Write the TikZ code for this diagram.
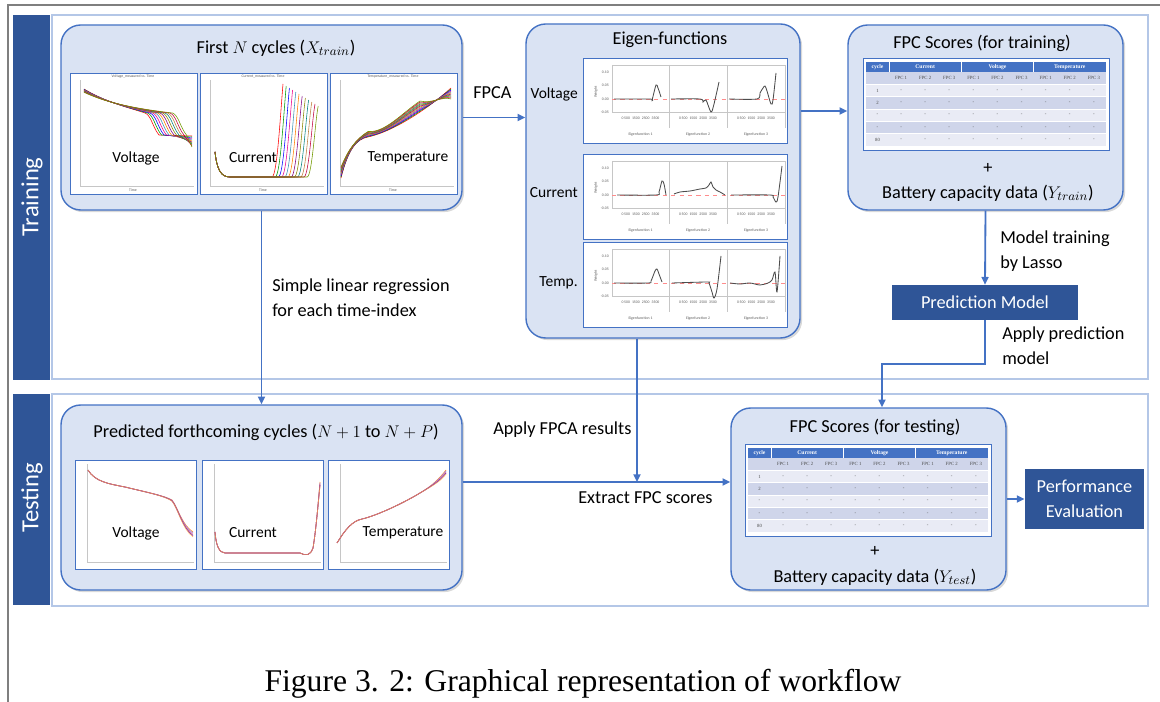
\documentclass[tikz,border=0pt]{standalone}
\usepackage{fontspec}
\setmainfont{Carlito}
\newfontfamily\capfont{Liberation Serif}
\usetikzlibrary{arrows.meta,shadows,fit,positioning}
\definecolor{boxfill}{RGB}{218,227,243}
\definecolor{boxline}{RGB}{68,114,196}
\definecolor{barblue}{RGB}{47,85,151}
\definecolor{panelline}{RGB}{180,199,231}
\definecolor{rowdark}{RGB}{207,213,234}
\definecolor{rowlight}{RGB}{233,235,245}
\definecolor{framegray}{RGB}{127,127,127}

\newcommand{\scoretable}[3]{%
  \begin{scope}[shift={(#1,#2)}]
    \draw[boxline, fill=white, line width=0.6pt] (0,0) rectangle (246,92);
    \fill[boxline] (3,4) rectangle (243,14);
    \foreach \r/\c in {0/rowdark,1/rowlight,2/rowdark,3/rowlight,4/rowdark,5/rowlight}
      \fill[\c] (3,{14+12.33*\r}) rectangle (243,{26.33+12.33*\r});
    \foreach \r in {1,...,5}
      \draw[white, line width=0.4pt] (3,{14+12.33*\r}) -- (243,{14+12.33*\r});
    \foreach \xx in {26,98.3,170.6}
      \draw[white, line width=0.6pt] (\xx,4) -- (\xx,14);
    \node[tabhead] (#3-cyc) at (14.5,9) {cycle};
    \node[tabhead] (#3-cur) at (62.2,9) {Current};
    \node[tabhead] (#3-vol) at (134.5,9) {Voltage};
    \node[tabhead] (#3-tmp) at (206.8,9) {Temperature};
    \foreach \k/\n in {0/1,1/2,2/3,3/1,4/2,5/3,6/1,7/2,8/3}
      \node[tabcell] (#3-h\k) at ({38.05+24.1*\k},20.2) {FPC \n};
    \foreach \r/\lab in {1/1,2/2,3/-,4/-,5/80} {
      \node[tabcell] (#3-r\r) at (14.5,{20.2+12.33*\r}) {\lab};
      \foreach \k in {0,...,8}
        \node[tabcell] (#3-\r-\k) at ({38.05+24.1*\k},{20.2+12.33*\r}) {-};
    }
  \end{scope}}

\newcommand{\eigenrow}[3]{%
  \begin{scope}[shift={(0,#1)}]
    \draw[plotbox] (583,0) rectangle (787,85);
    \draw[axisgray] (612,7) -- (612,54) -- (785,54) (612,7) -- (785,7)
      (669,7) -- (669,70) (727,7) -- (727,70) (785,7) -- (785,70);
    \draw[red!45, dashed, line width=0.4pt] (612,41) -- (785,41);
    \foreach \v/\yy in {0.10/14,0.05/27.5,0.00/41,-0.05/54.5}
      \node[ticklab, anchor=east] (#2-y\yy) at (609,\yy) {\v};
    \node[ticklab, rotate=90] (#2-w) at (596,34) {Weight};
    \foreach \xx/\k in {640.5/1,698/2,756/3} {
      \node[ticklab] (#2-t\k) at (\xx,60) {0\,500\;\;1500\;\;2500\;\;3500};
      \node[ticklab] (#2-e\k) at (\xx,77) {Eigenfunction \k};
    }
    #3
  \end{scope}}

\begin{document}
\begin{tikzpicture}[x=0.025cm, y=-0.025cm,
  block/.style={draw=boxline, fill=boxfill, line width=1pt, rounded corners=14pt, inner sep=0pt,
    drop shadow={opacity=0.3, shadow xshift=1.5pt, shadow yshift=-1.5pt}},
  darkbox/.style={fill=barblue, text=white, font=\fontsize{13}{17.5}\selectfont, align=center, inner sep=0pt},
  flow/.style={boxline, line width=1.3pt, -{Triangle[length=5.5pt,width=5pt]}},
  lab/.style={font=\fontsize{13}{17.5}\selectfont, align=left, inner sep=0pt},
  blocktitle/.style={font=\fontsize{13}{16}\selectfont, inner sep=0pt},
  plotlab/.style={font=\fontsize{11}{13}\selectfont, inner sep=0pt},
  sidelab/.style={text=white, font=\fontsize{17.5}{20}\selectfont, inner sep=0pt},
  plotbox/.style={draw=boxline, fill=white, line width=0.6pt},
  axisgray/.style={draw=gray!45, line width=0.3pt},
  ticklab/.style={font=\fontsize{2.7}{3}\selectfont, inner sep=0pt, text=gray!70!black},
  eigcurve/.style={gray!60!black, line width=0.6pt},
  tabhead/.style={font=\capfont\bfseries\fontsize{4}{4.5}\selectfont, text=white, inner sep=0pt},
  tabcell/.style={font=\capfont\fontsize{3.4}{4}\selectfont, text=black!70, inner sep=0pt}]

\useasboundingbox (0,0) rectangle (1160,702);
\draw[framegray, line width=1.2pt] (8,702) -- (8,5) -- (1160,5);

% training and testing lanes
\draw[panelline, line width=0.8pt] (52,15) rectangle (1148,379);
\draw[panelline, line width=0.8pt] (52,394) rectangle (1148,606);
\fill[barblue] (13,15) rectangle (50,380);
\fill[barblue] (13,394) rectangle (50,605);
\node[sidelab, rotate=90] (trainlab) at (32,197) {Training};
\node[sidelab, rotate=90] (testlab) at (32,498) {Testing};

\node[block, fit={(61,25) (462,210)}] (first) {};
\node[block, fit={(526,24) (800,338)}] (eigen) {};
\node[block, fit={(848,25) (1123,210)}] (trainsc) {};
\node[block, fit={(61,405) (462,590)}] (pred) {};
\node[block, fit={(731,408) (1006,590)}] (testsc) {};

\node[blocktitle] (firsttitle) at (276,48) {First $N$ cycles ($X_{train}$)};
\node[blocktitle] (eigentitle) at (670,40) {Eigen-functions};
\node[blocktitle] (trainsctitle) at (982,43) {FPC Scores (for training)};
\node[blocktitle] (predtitle) at (266,432) {Predicted forthcoming cycles ($N+1$ to $N+P$)};
\node[blocktitle] (testsctitle) at (875,427) {FPC Scores (for testing)};

% raw cycles
\foreach \x/\t in {70/Voltage,200/Current,330/Temperature} {
  \draw[plotbox] (\x,73) rectangle ({\x+127},194);
  \draw[axisgray] ({\x+10},80) -- ({\x+10},186) -- ({\x+124},186);
  \node[ticklab] (raw-\t) at ({\x+63},76.5) {\t\_measured vs. Time};
  \node[ticklab] (rawx-\t) at ({\x+63},190.5) {Time};
}
\foreach \i/\c in {0/red,1/green!60!black,2/blue,3/magenta,4/cyan!70!black,5/orange,6/violet,7/olive,8/teal,9/brown,10/purple,11/lime!60!black} {
  \draw[\c, line width=0.4pt] (84,{89+0.3*\i}) .. controls (105,102) and (130,108) .. ({145+2.5*\i},113)
    .. controls ({151+2.5*\i},115) and ({153+2.5*\i},128) .. ({159+2.5*\i},135) -- (192,{136+\i});
  \draw[\c, line width=0.4pt] (215,152) .. controls (217,170) and (221,177) .. (230,177) -- ({272+3.2*\i},177)
    .. controls ({277+3.2*\i},176) and ({280+3.2*\i},120) .. ({283+3.2*\i},{84+2*\i});
  \draw[\c, line width=0.4pt] (341,{178-\i}) .. controls (348,150) and (356,139) .. (368,{137-0.5*\i})
    .. controls (385,133) and (402,{124-\i}) .. (420,{112-\i}) .. controls (432,104) and (442,96) .. (451,{88+\i});
}
\node[plotlab] (rawv) at (136,158) {Voltage};
\node[plotlab] (rawc) at (253,158) {Current};
\node[plotlab] (rawt) at (408,158) {Temperature};

% predicted cycles
\foreach \x in {75,202,328} {
  \draw[plotbox] (\x,460) rectangle ({\x+121},569);
  \draw[axisgray] ({\x+12},464) -- ({\x+12},562) -- ({\x+119},562);
}
\foreach \i/\c in {0/orange!90!red,1/blue!55,2/red!55,3/blue!35!violet,4/orange!70} {
  \draw[\c, line width=0.5pt, opacity=0.8] (88,470) .. controls (95,482) and (110,484) .. (125,487)
    .. controls (150,493) and (165,496) .. (172,{500+0.3*\i}) .. controls (178,508) and (182,{525+\i}) .. (193,{532+1.2*\i});
  \draw[\c, line width=0.5pt, opacity=0.8] (215,532) .. controls (216,545) and (219,553) .. (225,553) -- (300,553)
    .. controls (306,556) and (310,556) .. (313,548) .. controls (316,530) and (318,505) .. (320,{482+\i});
  \draw[\c, line width=0.5pt, opacity=0.8] (337,543) .. controls (345,530) and (352,521) .. (362,519)
    .. controls (375,516) and (400,505) .. (420,493) .. controls (432,486) and (440,{478+\i}) .. (446,{470+\i});
}
\node[plotlab] (predv) at (136,533) {Voltage};
\node[plotlab] (predc) at (253,533) {Current};
\node[plotlab] (predt) at (403,533) {Temperature};

% eigen-functions
\eigenrow{58}{ev}{
  \draw[eigcurve] plot[smooth] coordinates {(614,41) (650,41) (652,42) (656,27) (658,30) (661,39)};
  \draw[eigcurve] plot[smooth] coordinates {(671,41) (700,41) (703,44) (706,42) (711,54) (714,46) (719,24)};
  \draw[eigcurve] plot[smooth] coordinates {(729,41) (757,41) (760,35) (763,30) (765,28) (767,33) (771,46) (773,42) (776,15)};
}
\eigenrow{154}{ec}{
  \draw[eigcurve] plot[smooth] coordinates {(617,41) (656,41) (659,38) (662,27) (664,30) (666,41)};
  \draw[eigcurve] plot[smooth] coordinates {(674,40) (680,38) (690,37) (700,35) (706,34) (709,31) (711,28) (713,33) (716,36) (720,38) (725,41)};
  \draw[eigcurve] plot[smooth] coordinates {(731,41) (770,41) (773,43) (776,48) (778,43) (782,12)};
}
\eigenrow{242}{et}{
  \draw[eigcurve] plot[smooth] coordinates {(614,41) (648,41) (651,39) (655,29) (657,27) (659,32) (662,40)};
  \draw[eigcurve] plot[smooth] coordinates {(672,41) (707,40) (709,41) (712,50) (714,56) (717,47) (721,14)};
  \draw[eigcurve] plot[smooth] coordinates {(730,41) (740,42) (750,41) (760,43) (768,41) (772,38) (775,30) (777,50) (780,14)};
}
\node[plotlab, anchor=east] (vlab) at (578,94) {Voltage};
\node[plotlab, anchor=east] (clab) at (578,193) {Current};
\node[plotlab, anchor=east] (tlab) at (578,283) {Temp.};

% score tables
\scoretable{863}{58}{trn}
\scoretable{745}{444}{tst}
\node[blocktitle] (trainplus) at (988,168) {+};
\node[blocktitle] (trainy) at (988,193) {Battery capacity data ($Y_{train}$)};
\node[blocktitle] (testplus) at (875,551) {+};
\node[blocktitle] (testy) at (875,577) {Battery capacity data ($Y_{test}$)};

\node[darkbox, minimum width=4.65cm, minimum height=0.875cm] (predmodel) at (985,302.5) {Prediction Model};
\node[darkbox, minimum width=2.98cm, minimum height=1.5cm] (perf) at (1084.5,499) {Performance\\Evaluation};

\coordinate (bend) at (882,364);
\coordinate (join) at (637,482);
\draw[flow] (first.east) -- (first.east -| eigen.west);
\draw[flow] (eigen.east |- 0,111) -- (trainsc.west |- 0,111);
\draw[flow] (trainsc.south) -- (predmodel.north);
\draw[flow] (predmodel.south) |- (bend) -- (bend |- testsc.north);
\draw[flow] (first.south) -- (first.south |- pred.north);
\draw[flow] (eigen.south -| join) -- (join);
\draw[flow] (pred.east |- join) -- (testsc.west |- join);
\draw[flow] (testsc.east |- perf.west) -- (perf.west);

\node[lab, anchor=west] (fpcalab) at (473,93) {FPCA};
\node[lab, anchor=west] (lassolab) at (1000,251) {Model training\\by Lasso};
\node[lab, anchor=west] (applylab) at (1002,346) {Apply prediction\\model};
\node[lab, anchor=west] (regrlab) at (272,298) {Simple linear regression\\for each time-index};
\node[lab, anchor=west] (fpcares) at (493,430) {Apply FPCA results};
\node[lab, anchor=west] (extractlab) at (578,498) {Extract FPC scores};

\node[font=\capfont\fontsize{22.5}{27}\selectfont, inner sep=0pt] (caption) at (583,684) {Figure 3. 2: Graphical representation of workflow};
\end{tikzpicture}
\end{document}
